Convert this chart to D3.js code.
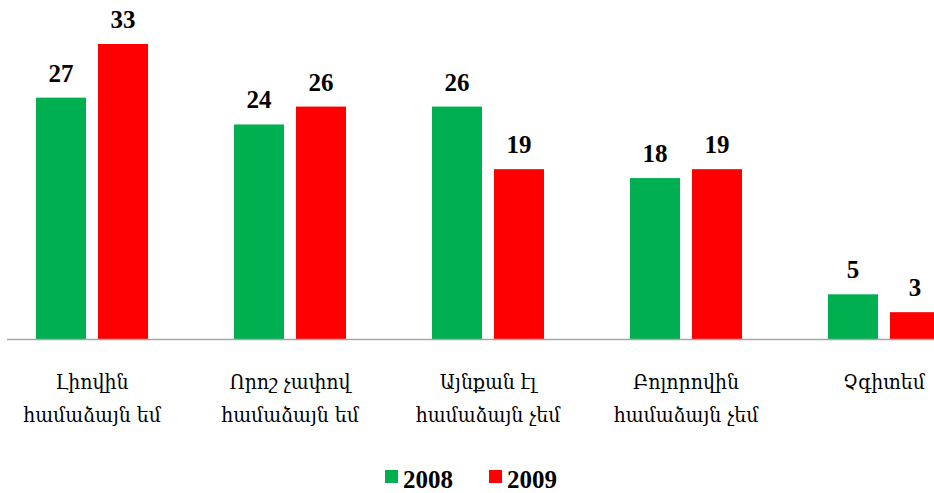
<!DOCTYPE html>
<html>
<head>
<meta charset="utf-8">
<script src="https://cdn.jsdelivr.net/npm/d3@7"></script>
<style>
  body { margin: 0; background: #fff; }
  .val { font-family: "Liberation Serif", "Times New Roman", serif; font-weight: bold; font-size: 25px; }
  .cat { font-family: "DejaVu Serif Condensed", "DejaVu Serif", serif; font-size: 21px; }
  .leg { font-family: "Liberation Serif", "Times New Roman", serif; font-weight: bold; font-size: 25px; }
</style>
</head>
<body>
<svg class="chart"></svg>
<script>
let categories = [
  ["Լիովին", "համաձայն եմ"],
  ["Որոշ չափով", "համաձայն եմ"],
  ["Այնքան էլ", "համաձայն չեմ"],
  ["Բոլորովին", "համաձայն չեմ"],
  ["Չգիտեմ"]
]
let years = ["2008", "2009"]
let values2008 = [27, 24, 26, 18, 5]
let values2009 = [33, 26, 19, 19, 3]
let colors = ["#00b050", "#ff0000"]

let width = 934
let height = 493
let baseY = 339

let svg = d3.select(".chart")
    .attr("width", width)
    .attr("height", height)

// plot area is wider than the picture, last pair is cut at the right edge
let x = d3.scaleBand()
    .domain(d3.range(categories.length))
    .range([-7, 983])

let x1 = d3.scaleBand()
    .domain(years)
    .range([43, 155])
    .paddingInner(12 / 62)

let y = d3.scaleLinear()
    .domain([0, 33])
    .range([baseY, 44])

let series = [values2008, values2009]

series.forEach(function(vals, s) {
  let g = svg.append("g")
  g.selectAll("rect")
    .data(vals)
    .enter().append("rect")
      .attr("x", function(d, i) { return x(i) + x1(years[s]) })
      .attr("y", function(d) { return y(d) })
      .attr("width", x1.bandwidth())
      .attr("height", function(d) { return baseY - y(d) })
      .attr("fill", colors[s])

  g.selectAll("text")
    .data(vals)
    .enter().append("text")
      .attr("class", "val")
      .attr("x", function(d, i) { return x(i) + x1(years[s]) + x1.bandwidth() / 2 })
      .attr("y", function(d) { return y(d) - 16 })
      .attr("text-anchor", "middle")
      .text(function(d) { return d })
})

svg.append("line")
    .attr("x1", 7)
    .attr("x2", width)
    .attr("y1", baseY + 0.5)
    .attr("y2", baseY + 0.5)
    .attr("stroke", "#a6a6a6")
    .attr("stroke-width", 1.5)

categories.forEach(function(lines, i) {
  let t = svg.append("text")
    .attr("class", "cat")
    .attr("text-anchor", "middle")
    .attr("x", x(i) + x.bandwidth() / 2)
    .attr("y", 389)
  lines.forEach(function(l, j) {
    t.append("tspan")
      .attr("x", x(i) + x.bandwidth() / 2)
      .attr("dy", j == 0 ? 0 : 33)
      .text(l)
  })
})

let legX = [385, 489]
years.forEach(function(yr, i) {
  svg.append("rect")
    .attr("x", legX[i])
    .attr("y", 470)
    .attr("width", 13)
    .attr("height", 13)
    .attr("fill", colors[i])
  svg.append("text")
    .attr("class", "leg")
    .attr("x", legX[i] + 18)
    .attr("y", 488)
    .text(yr)
})
</script>
</body>
</html>
